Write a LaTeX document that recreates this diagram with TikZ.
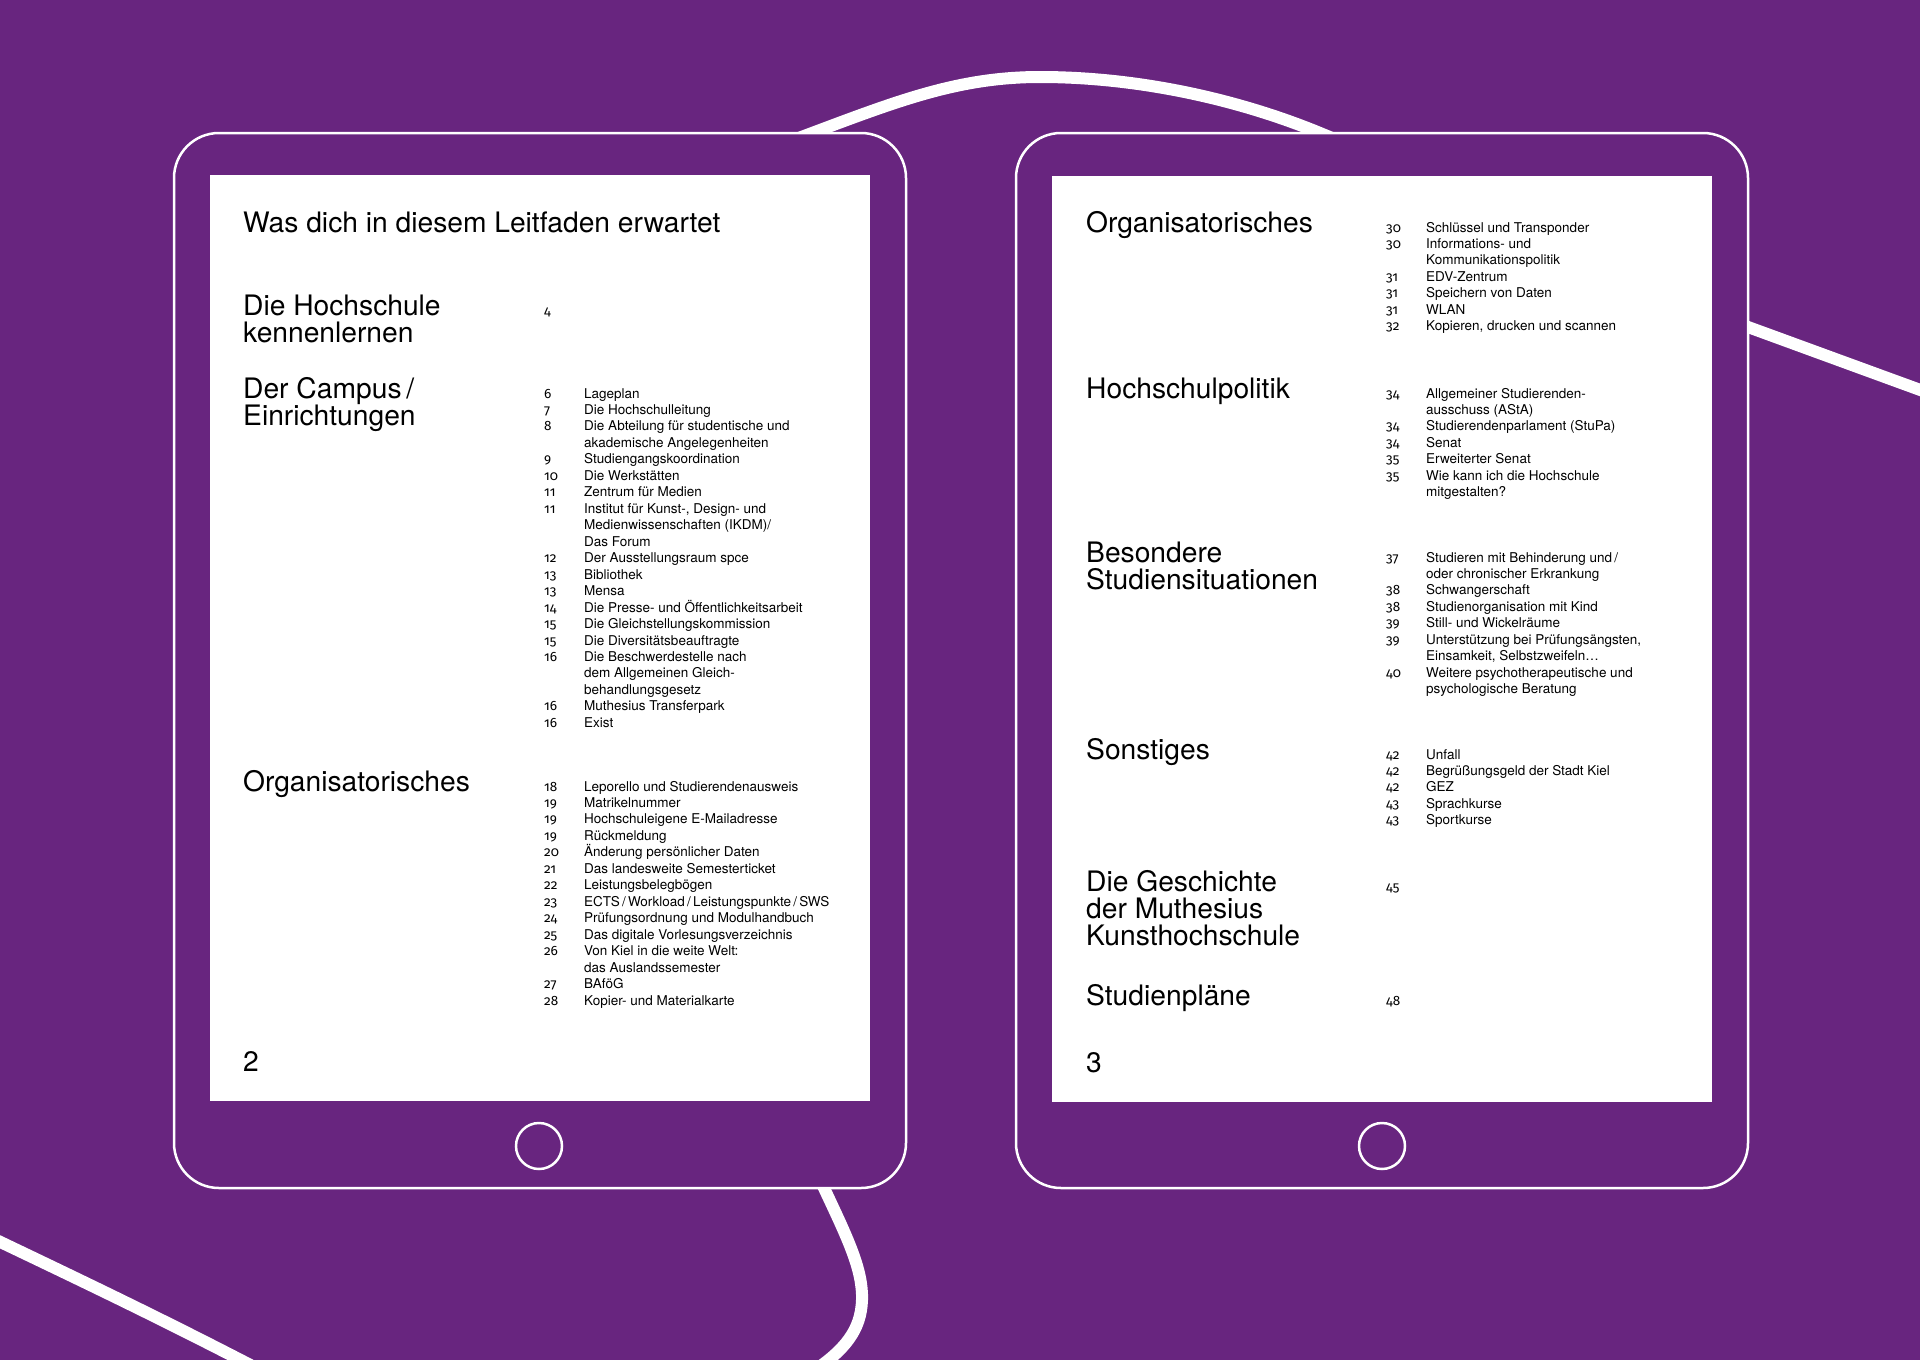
\documentclass[tikz,border=0pt]{standalone}
\usepackage{fontspec}
\setmainfont{TeX Gyre Heros}
\newfontfamily\numfont[Numbers=OldStyle]{Fira Sans}
\definecolor{bgpurple}{RGB}{104,37,127}
\newcommand{\hd}{\fontsize{28.2}{27}\selectfont}
\newcommand{\sm}{\fontsize{13.5}{16.47}\selectfont}
\newcommand{\en}[2]{\hbox{\makebox[40pt][l]{\numfont #1}#2}}
\newcommand{\co}[1]{\hbox{\hspace{40pt}#1}}
\newcommand{\pn}[1]{{\numfont #1}}
\begin{document}
\begin{tikzpicture}[x=1pt,y=-1pt,
  curve/.style={draw=white, line width=12pt},
  frame/.style={draw=white, line width=2.5pt, fill=bgpurple, rounded corners=45pt,
    minimum width=732pt, minimum height=1055pt, inner sep=0pt, outer sep=0pt},
  screen/.style={fill=white, minimum width=660pt, minimum height=926pt, inner sep=0pt, outer sep=0pt},
  homebtn/.style={circle, draw=white, line width=2.5pt, minimum size=46pt, inner sep=0pt},
  head/.style={font=\hd, anchor=base west, inner sep=0pt, text=black},
  toc/.style={font=\sm, anchor=base west, inner sep=0pt, text=black},
]
\useasboundingbox (0,0) rectangle (1920,1360);
\fill[bgpurple] (0,0) rectangle (1920,1360);
\clip (0,0) rectangle (1920,1360);

% background curves
\coordinate (ca) at (740,160);
\coordinate (cb) at (812,133);
\coordinate (cpeak) at (1040,77);
\coordinate (cc) at (1320,133);
\coordinate (cd) at (1748,327);
\coordinate (ce) at (1945,399);
\draw[curve] (ca) -- (cb) .. controls (900,100) and (960,77) .. (cpeak)
  .. controls (1140,77) and (1240,100) .. (cc)
  .. controls (1500,207) and (1650,290) .. (cd)
  .. controls (1800,346) and (1860,368) .. (ce);
\coordinate (da) at (800,1137);
\coordinate (db) at (824,1188);
\coordinate (dc) at (862,1300);
\coordinate (dd) at (812,1372);
\draw[curve] (da) -- (db) .. controls (848,1239) and (863,1270) .. (dc)
  .. controls (861,1330) and (845,1350) .. (dd);
\coordinate (ea) at (-10,1237);
\coordinate (eb) at (260,1370);
\draw[curve] (ea) .. controls (80,1280) and (160,1318) .. (eb);

% tablets
\node[frame] (tabL) at (540,660.5) {};
\node[frame] (tabR) at (1382,660.5) {};
\node[screen] (scrL) at (539.5,638) {};
\node[screen] (scrR) at (1382,638.5) {};
\node[homebtn] (homeL) at (539,1146) {};
\node[homebtn] (homeR) at (1382,1146) {};

% left page
\node[head] (titleL) at (243,232) {Was dich in diesem Leitfaden erwartet};
\node[head] (hKennen) at (243,315) {\vtop{\hbox{Die Hochschule}\hbox{kennenlernen}}};
\node[toc] (nKennen) at (544,315) {\pn{4}};
\node[head] (hCampus) at (243,398) {\vtop{\hbox{Der Campus\,/}\hbox{Einrichtungen}}};
\node[toc] (lCampus) at (544,398) {\vtop{%
  \en{6}{Lageplan}
  \en{7}{Die Hochschulleitung}
  \en{8}{Die Abteilung für studentische und}
  \co{akademische Angelegenheiten}
  \en{9}{Studiengangskoordination}
  \en{10}{Die Werkstätten}
  \en{11}{Zentrum für Medien}
  \en{11}{Institut für Kunst-, Design- und}
  \co{Medienwissenschaften (IKDM)/}
  \co{Das Forum}
  \en{12}{Der Ausstellungsraum spce}
  \en{13}{Bibliothek}
  \en{13}{Mensa}
  \en{14}{Die Presse- und Öffentlichkeitsarbeit}
  \en{15}{Die Gleichstellungskommission}
  \en{15}{Die Diversitätsbeauftragte}
  \en{16}{Die Beschwerdestelle nach}
  \co{dem Allgemeinen Gleich-}
  \co{behandlungsgesetz}
  \en{16}{Muthesius Transferpark}
  \en{16}{Exist}}};
\node[head] (hOrgL) at (243,791) {Organisatorisches};
\node[toc] (lOrgL) at (544,791) {\vtop{%
  \en{18}{Leporello und Studierendenausweis}
  \en{19}{Matrikelnummer}
  \en{19}{Hochschuleigene E-Mailadresse}
  \en{19}{Rückmeldung}
  \en{20}{Änderung persönlicher Daten}
  \en{21}{Das landesweite Semesterticket}
  \en{22}{Leistungsbelegbögen}
  \en{23}{ECTS\,/\,Workload\,/\,Leistungspunkte\,/\,SWS}
  \en{24}{Prüfungsordnung und Modulhandbuch}
  \en{25}{Das digitale Vorlesungsverzeichnis}
  \en{26}{Von Kiel in die weite Welt:}
  \co{das Auslandssemester}
  \en{27}{BAföG}
  \en{28}{Kopier- und Materialkarte}}};
\node[head] (pageL) at (243,1071) {2};

% right page
\node[head] (hOrgR) at (1086,232) {Organisatorisches};
\node[toc] (lOrgR) at (1386,232) {\vtop{%
  \en{30}{Schlüssel und Transponder}
  \en{30}{Informations- und}
  \co{Kommunikationspolitik}
  \en{31}{EDV-Zentrum}
  \en{31}{Speichern von Daten}
  \en{31}{WLAN}
  \en{32}{Kopieren, drucken und scannen}}};
\node[head] (hPol) at (1086,398) {Hochschulpolitik};
\node[toc] (lPol) at (1386,398) {\vtop{%
  \en{34}{Allgemeiner Studierenden-}
  \co{ausschuss (AStA)}
  \en{34}{Studierendenparlament (StuPa)}
  \en{34}{Senat}
  \en{35}{Erweiterter Senat}
  \en{35}{Wie kann ich die Hochschule}
  \co{mitgestalten?}}};
\node[head] (hBes) at (1086,562) {\vtop{\hbox{Besondere}\hbox{Studiensituationen}}};
\node[toc] (lBes) at (1386,562) {\vtop{%
  \en{37}{Studieren mit Behinderung und\,/}
  \co{oder chronischer Erkrankung}
  \en{38}{Schwangerschaft}
  \en{38}{Studienorganisation mit Kind}
  \en{39}{Still- und Wickelräume}
  \en{39}{Unterstützung bei Prüfungsängsten,}
  \co{Einsamkeit, Selbstzweifeln…}
  \en{40}{Weitere psychotherapeutische und}
  \co{psychologische Beratung}}};
\node[head] (hSon) at (1086,759) {Sonstiges};
\node[toc] (lSon) at (1386,759) {\vtop{%
  \en{42}{Unfall}
  \en{42}{Begrüßungsgeld der Stadt Kiel}
  \en{42}{GEZ}
  \en{43}{Sprachkurse}
  \en{43}{Sportkurse}}};
\node[head] (hGes) at (1086,891) {\vtop{\hbox{Die Geschichte}\hbox{der Muthesius}\hbox{Kunsthochschule}}};
\node[toc] (nGes) at (1386,891) {\pn{45}};
\node[head] (hPlan) at (1086,1005) {Studienpläne};
\node[toc] (nPlan) at (1386,1005) {\pn{48}};
\node[head] (pageR) at (1086,1072) {3};
\end{tikzpicture}
\end{document}
